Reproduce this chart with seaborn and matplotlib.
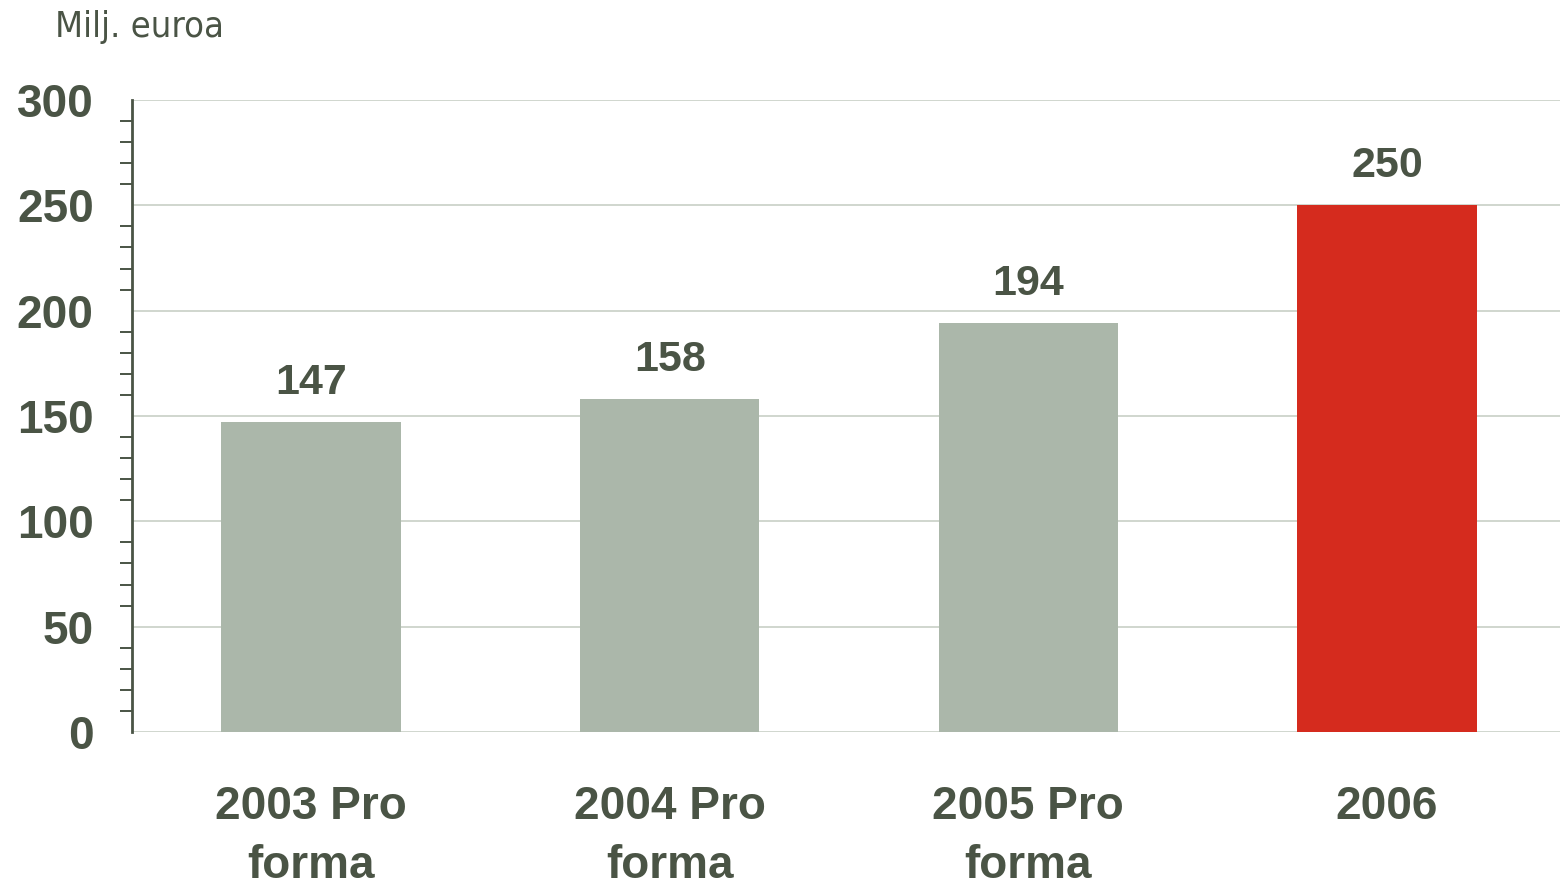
import matplotlib
matplotlib.use("Agg")
import matplotlib.pyplot as plt
from matplotlib.ticker import MultipleLocator
import seaborn as sns
import pandas as pd

categories = ["2003 Pro\nforma", "2004 Pro\nforma", "2005 Pro\nforma", "2006"]
values = [147, 158, 194, 250]
bar_colors = ["#abb7aa", "#abb7aa", "#abb7aa", "#d52b1e"]
unit_label = "Milj. euroa"

sns.set_theme(style="white")
plt.rcParams["font.family"] = ["Liberation Sans", "DejaVu Sans"]

txt = "#4a5445"
df = pd.DataFrame({"cat": categories, "val": values})

fig = plt.figure(figsize=(15.6, 8.88), dpi=100)
ax = fig.add_axes([0.0845, 0.1757, 0.9195, 0.7117])

sns.barplot(data=df, x="cat", y="val", hue="cat", palette=bar_colors,
            legend=False, width=0.5, saturation=1, linewidth=0, ax=ax, zorder=3)

ax.set_xlim(-0.5, 3.5)
ax.set_ylim(0, 300)
ax.yaxis.set_major_locator(MultipleLocator(50))
ax.yaxis.set_minor_locator(MultipleLocator(10))
ax.grid(axis="y", which="major", color="#c8cfc6", linewidth=1.2, zorder=0)
ax.set_axisbelow(True)

for s in ["top", "right", "bottom"]:
    ax.spines[s].set_visible(False)
ax.spines["left"].set_color(txt)
ax.spines["left"].set_linewidth(2)

ax.tick_params(axis="y", which="major", direction="out", length=11.5, width=1.8,
               color=txt, labelsize=33, labelcolor=txt, pad=16)
ax.tick_params(axis="y", which="minor", direction="out", length=8.6, width=1.4,
               color=txt, left=True)
ax.tick_params(axis="x", length=0, labelsize=33, labelcolor=txt, pad=38)
for lab in ax.get_yticklabels() + ax.get_xticklabels():
    lab.set_fontweight("bold")
for lab in ax.get_xticklabels():
    lab.set_linespacing(1.45)

ax.set_xlabel("")
ax.set_ylabel("")

for i, v in enumerate(values):
    ax.annotate(str(v), (i, v), xytext=(0, 14), textcoords="offset points",
                ha="center", va="bottom", fontsize=31, fontweight="bold", color=txt)

fig.text(0.035, 0.97, unit_label, fontsize=26, color=txt, ha="left", va="center",
         stretch="condensed",
         family=["Liberation Sans Narrow", "DejaVu Sans", "Liberation Sans"])

fig.savefig("out.png", dpi=100)
